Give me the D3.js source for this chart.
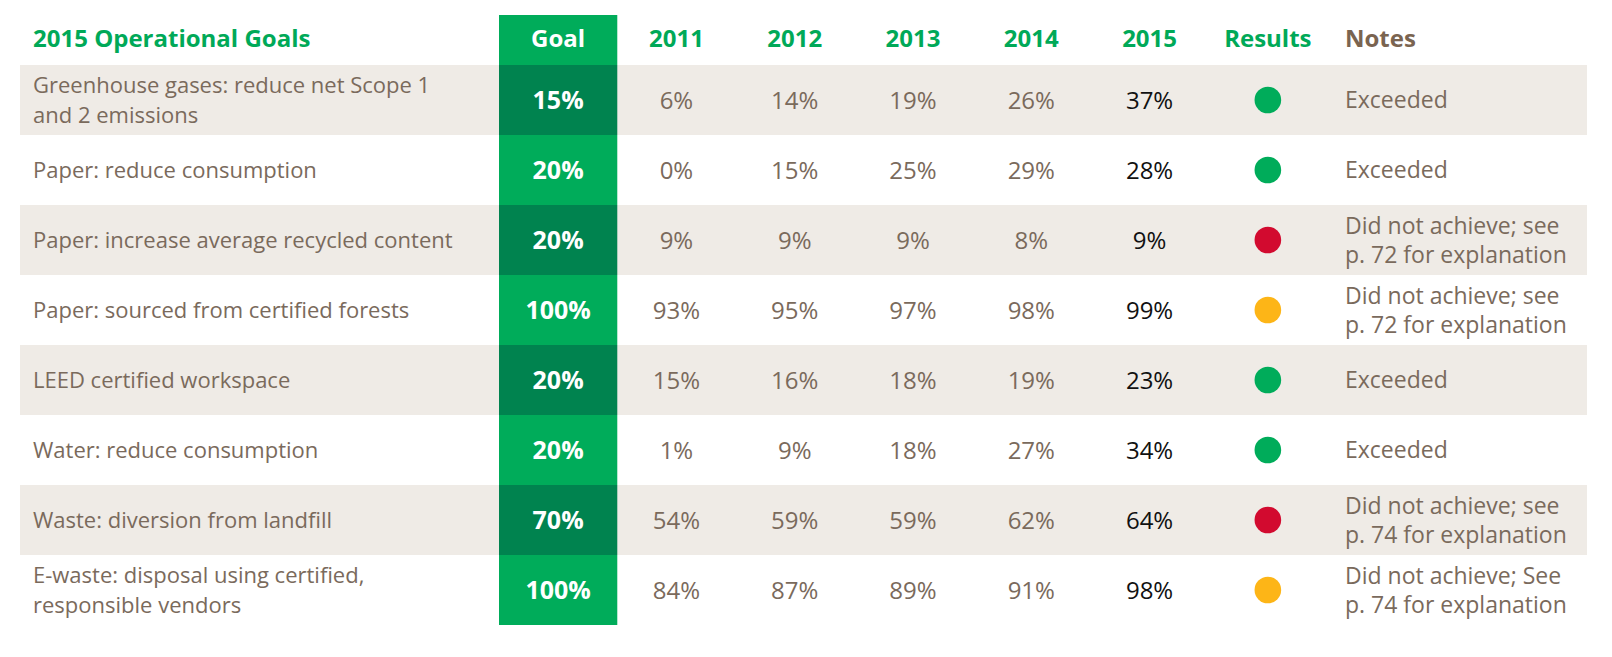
<!DOCTYPE html>
<html>
<head>
<meta charset="utf-8">
<script src="https://cdn.jsdelivr.net/npm/d3@7"></script>
<style>
  html, body { margin: 0; padding: 0; background: #ffffff; }
  svg { display: block; }
</style>
</head>
<body>
<svg id="chart" width="1612" height="657"></svg>
<script>
// ---- data ----
const title = "2015 Operational Goals";
const goalHeader = "Goal";
const resultsHeader = "Results";
const notesHeader = "Notes";
const goalLabels = [
  ["Greenhouse gases: reduce net Scope 1", "and 2 emissions"],
  ["Paper: reduce consumption"],
  ["Paper: increase average recycled content"],
  ["Paper: sourced from certified forests"],
  ["LEED certified workspace"],
  ["Water: reduce consumption"],
  ["Waste: diversion from landfill"],
  ["E-waste: disposal using certified,", "responsible vendors"]
];
const goalTargets = [15, 20, 20, 100, 20, 20, 70, 100];
const years = ["2011", "2012", "2013", "2014", "2015"];
const values2011 = [6, 0, 9, 93, 15, 1, 54, 84];
const values2012 = [14, 15, 9, 95, 16, 9, 59, 87];
const values2013 = [19, 25, 9, 97, 18, 18, 59, 89];
const values2014 = [26, 29, 8, 98, 19, 27, 62, 91];
const values2015 = [37, 28, 9, 99, 23, 34, 64, 98];
const results = ["met", "met", "missed", "partial", "met", "met", "missed", "partial"];
const notes = [
  ["Exceeded"],
  ["Exceeded"],
  ["Did not achieve; see", "p. 72 for explanation"],
  ["Did not achieve; see", "p. 72 for explanation"],
  ["Exceeded"],
  ["Exceeded"],
  ["Did not achieve; see", "p. 74 for explanation"],
  ["Did not achieve; See", "p. 74 for explanation"]
];

// ---- styles ----
const C = {
  green: "#00ac5a",
  darkGreen: "#00834f",
  headGreen: "#00a958",
  rowBg: "#efebe6",
  text: "#7a6a5c",
  notesHead: "#7a6450",
  black: "#111111",
  red: "#d20a2f",
  amber: "#fdb517"
};
const resultColor = { met: C.green, missed: C.red, partial: C.amber };
const FONT = "'Open Sans', 'Noto Sans', sans-serif";

const yearValues = [values2011, values2012, values2013, values2014, values2015];

const svg = d3.select("#chart");
const n = goalLabels.length;

// scales
const y = d3.scaleBand().domain(d3.range(n)).range([65, 625]).paddingInner(0).paddingOuter(0);
const columns = ["goal", ...years, "results"];
const x = d3.scaleBand().domain(columns).range([499, 1327]);
const tableLeft = 20, tableRight = 1587, headerTop = 15;
const labelX = 33, notesX = 1345;
const headerBaseline = 46.5;
const lineGap = 29.4;

// row backgrounds
svg.append("g").selectAll("rect")
  .data(d3.range(n).filter(i => i % 2 === 0))
  .join("rect")
  .attr("x", tableLeft)
  .attr("y", i => y(i))
  .attr("width", tableRight - tableLeft)
  .attr("height", y.bandwidth())
  .attr("fill", C.rowBg);

// goal column
svg.append("rect")
  .attr("x", x("goal")).attr("y", headerTop)
  .attr("width", x.bandwidth()).attr("height", y(0) - headerTop)
  .attr("fill", C.green);
svg.append("g").selectAll("rect")
  .data(goalTargets)
  .join("rect")
  .attr("x", x("goal"))
  .attr("y", (d, i) => y(i))
  .attr("width", x.bandwidth())
  .attr("height", y.bandwidth())
  .attr("fill", (d, i) => i % 2 === 0 ? C.darkGreen : C.green);

// headers
const head = svg.append("g")
  .attr("font-family", FONT)
  .attr("font-weight", 700)
  .attr("font-size", 24);
head.append("text").attr("x", labelX).attr("y", headerBaseline).attr("fill", C.headGreen).text(title);
head.append("text").attr("x", x("goal") + x.bandwidth() / 2).attr("y", headerBaseline)
  .attr("text-anchor", "middle").attr("fill", "#ffffff").text(goalHeader);
head.selectAll("text.year").data(years).join("text")
  .attr("class", "year")
  .attr("x", d => x(d) + x.bandwidth() / 2).attr("y", headerBaseline)
  .attr("text-anchor", "middle").attr("fill", C.headGreen).text(d => d);
head.append("text").attr("x", x("results") + x.bandwidth() / 2).attr("y", headerBaseline)
  .attr("text-anchor", "middle").attr("fill", C.headGreen).text(resultsHeader);
head.append("text").attr("x", notesX).attr("y", headerBaseline).attr("fill", C.notesHead).text(notesHeader);

// helper: multiline text centered vertically on a row
function multiline(sel, lines, cy, fs) {
  const base = cy + fs * 0.36 - (lines.length - 1) * lineGap / 2;
  sel.selectAll("tspan").data(lines).join("tspan")
    .attr("x", sel.attr("x"))
    .attr("y", (d, k) => base + k * lineGap)
    .text(d => d);
}

// labels
const lab = svg.append("g").attr("font-family", FONT).attr("font-weight", 400)
  .attr("font-size", 22).attr("fill", C.text);
goalLabels.forEach((lines, i) => {
  const t = lab.append("text").attr("x", labelX);
  multiline(t, lines, y(i) + y.bandwidth() / 2, 22);
});

// goal values
svg.append("g").attr("font-family", FONT).attr("font-weight", 700).attr("font-size", 25)
  .attr("fill", "#ffffff").attr("text-anchor", "middle")
  .selectAll("text").data(goalTargets).join("text")
  .attr("x", x("goal") + x.bandwidth() / 2)
  .attr("y", (d, i) => y(i) + y.bandwidth() / 2 + 25 * 0.36)
  .text(d => d + "%");

// year values
years.forEach((yr, j) => {
  svg.append("g").attr("font-family", FONT).attr("font-size", 24)
    .attr("fill", yr === "2015" ? C.black : C.text).attr("text-anchor", "middle")
    .selectAll("text").data(yearValues[j]).join("text")
    .attr("x", x(yr) + x.bandwidth() / 2)
    .attr("y", (d, i) => y(i) + y.bandwidth() / 2 + 24 * 0.36)
    .text(d => d + "%");
});

// results circles
svg.append("g").selectAll("circle").data(results).join("circle")
  .attr("cx", x("results") + x.bandwidth() / 2)
  .attr("cy", (d, i) => y(i) + y.bandwidth() / 2)
  .attr("r", 13.3)
  .attr("fill", d => resultColor[d]);

// notes
const nt = svg.append("g").attr("font-family", FONT).attr("font-size", 23).attr("fill", C.text);
notes.forEach((lines, i) => {
  const t = nt.append("text").attr("x", notesX);
  multiline(t, lines, y(i) + y.bandwidth() / 2, 23);
});
</script>
</body>
</html>
